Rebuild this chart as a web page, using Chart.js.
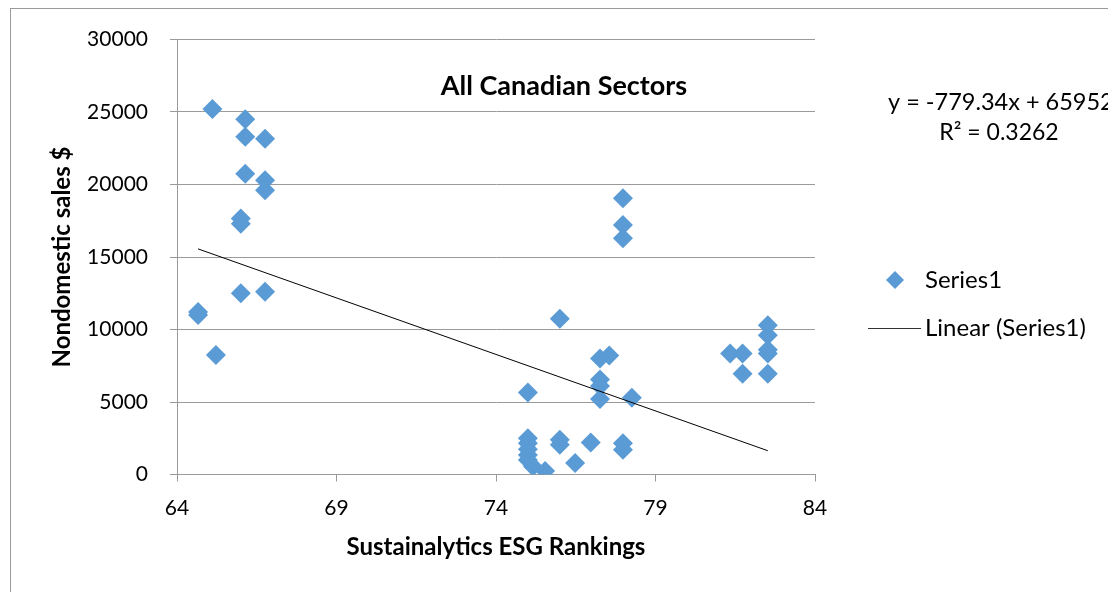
<!DOCTYPE html>
<html>
<head>
<meta charset="utf-8">
<title>All Canadian Sectors</title>
<script src="https://cdn.jsdelivr.net/npm/chart.js@4.4.1/dist/chart.umd.min.js"></script>
<style>
    html, body { margin: 0; padding: 0; background: #ffffff; }
    #wrap { position: relative; width: 1108px; height: 592px; }
</style>
</head>
<body>
<div id="wrap">
    <canvas id="esgChart" width="1108" height="592"></canvas>
</div>
<script>
// Sustainalytics ESG ranking (x) and nondomestic sales (y)
const esgRank = [
    65.11, 66.14, 66.14, 66.76, 66.14, 66.76, 66.76, 66.0, 66.0,
    64.66, 64.66, 66.0, 66.76, 65.22,
    75.0, 76.0, 77.98, 77.98, 77.98, 77.26, 77.55, 77.26, 77.26, 77.26, 78.26,
    75.0, 75.0, 75.0, 75.0, 75.0, 75.16, 75.54, 76.0, 76.0, 76.48, 76.97, 77.98, 77.98,
    81.34, 81.73, 81.73, 82.52, 82.52, 82.52, 82.52, 82.52
];
const nondomesticSales = [
    25200, 24500, 23300, 23150, 20750, 20300, 19600, 17650, 17300,
    11200, 11000, 12500, 12600, 8250,
    5650, 10750, 19050, 17200, 16300, 8000, 8200, 6550, 6100, 5200, 5300,
    2500, 2150, 1750, 1350, 1000, 550, 250, 2400, 2050, 800, 2200, 2150, 1700,
    8350, 8350, 6950, 10300, 9600, 8600, 8350, 6950
];

// tick labels
const xTicks = [64, 69, 74, 79, 84];
const yTicks = [0, 5000, 10000, 15000, 20000, 25000, 30000];

// excel linear trendline, as printed on the chart
const trendSlope = -779.34;
const trendIntercept = 65952;
const trendLabel = 'y = -779.34x + 65952';
const r2Label = 'R\u00B2 = 0.3262';

const seriesName = 'Series1';
const trendName = 'Linear (Series1)';
const chartTitle = 'All Canadian Sectors';

const FONT = 'Lato, "Open Sans", sans-serif';
const BLUE = '#5B9BD5';
const GRID = '#9a9a9a';

const points = esgRank.map((x, i) => ({ x: x, y: nondomesticSales[i] }));
const xMin = Math.min(...esgRank);
const xMax = Math.max(...esgRank);
const trendPoints = [xMin, xMax].map(x => ({ x: x, y: trendSlope * x + trendIntercept }));

// border, title, equation and legend drawn like the excel chart
const excelDecor = {
    id: 'excelDecor',
    beforeDraw(chart) {
        const ctx = chart.ctx;
        ctx.save();
        ctx.fillStyle = '#ffffff';
        ctx.fillRect(0, 0, chart.width, chart.height);
        ctx.strokeStyle = GRID;
        ctx.lineWidth = 1;
        ctx.strokeRect(10.5, 8.5, 1200, 700);
        ctx.restore();
    },
    afterDraw(chart) {
        const ctx = chart.ctx;
        ctx.save();
        ctx.fillStyle = '#000000';
        ctx.textBaseline = 'middle';

        ctx.font = 'bold 27px ' + FONT;
        ctx.textAlign = 'center';
        ctx.fillText(chartTitle, 564, 86);

        ctx.font = '23.5px ' + FONT;
        ctx.textAlign = 'left';
        ctx.fillText(trendLabel, 888, 102);
        ctx.textAlign = 'center';
        ctx.font = '23px ' + FONT;
        ctx.fillText(r2Label, 999, 133);

        // legend
        ctx.fillStyle = BLUE;
        ctx.beginPath();
        ctx.moveTo(895, 271);
        ctx.lineTo(904, 280);
        ctx.lineTo(895, 289);
        ctx.lineTo(886, 280);
        ctx.closePath();
        ctx.fill();

        ctx.strokeStyle = '#333333';
        ctx.lineWidth = 1;
        ctx.beginPath();
        ctx.moveTo(868, 328.5);
        ctx.lineTo(921, 328.5);
        ctx.stroke();

        ctx.fillStyle = '#000000';
        ctx.textAlign = 'left';
        ctx.font = '24px ' + FONT;
        ctx.fillText(seriesName, 925, 280);
        ctx.fillText(trendName, 925, 328);
        ctx.restore();
    }
};

const ctx = document.getElementById('esgChart');
new Chart(ctx, {
    type: 'scatter',
    data: {
        datasets: [
            {
                label: seriesName,
                data: points,
                pointStyle: 'rectRot',
                pointRadius: 10,
                pointHoverRadius: 10,
                backgroundColor: BLUE,
                borderWidth: 0,
                order: 2
            },
            {
                label: trendName,
                type: 'line',
                data: trendPoints,
                showLine: true,
                borderColor: '#000000',
                borderWidth: 1,
                pointRadius: 0,
                fill: false,
                order: 1
            }
        ]
    },
    options: {
        responsive: false,
        animation: false,
        devicePixelRatio: 1,
        layout: {
            padding: { top: 39.5, right: 293, bottom: 0, left: 0 }
        },
        plugins: {
            legend: { display: false },
            title: { display: false },
            tooltip: { enabled: false }
        },
        scales: {
            x: {
                type: 'linear',
                min: xTicks[0],
                max: xTicks[xTicks.length - 1],
                afterBuildTicks: (scale) => { scale.ticks = xTicks.map(v => ({ value: v })); },
                afterFit: (scale) => { scale.height = 117.5; },
                grid: {
                    drawOnChartArea: false,
                    drawTicks: true,
                    tickLength: 7,
                    color: GRID
                },
                border: { display: true, color: GRID, width: 1 },
                ticks: {
                    color: '#000000',
                    padding: 14,
                    font: { family: FONT, size: 21 },
                    callback: (v) => String(v)
                },
                title: {
                    display: true,
                    text: 'Sustainalytics ESG Rankings',
                    color: '#000000',
                    padding: { top: 0, bottom: 30 },
                    font: { family: FONT, size: 24, weight: 'bold' }
                }
            },
            y: {
                type: 'linear',
                min: yTicks[0],
                max: yTicks[yTicks.length - 1],
                afterBuildTicks: (scale) => { scale.ticks = yTicks.map(v => ({ value: v })); },
                afterFit: (scale) => { scale.width = 177; },
                grid: {
                    drawOnChartArea: true,
                    drawTicks: true,
                    tickLength: 7,
                    color: GRID
                },
                border: { display: true, color: GRID, width: 1 },
                ticks: {
                    color: '#000000',
                    padding: 22,
                    font: { family: FONT, size: 21 },
                    callback: (v) => String(v)
                },
                title: {
                    display: true,
                    text: 'Nondomestic sales $',
                    color: '#000000',
                    padding: { top: 48, bottom: 0 },
                    font: { family: FONT, size: 24, weight: 'bold' }
                }
            }
        }
    },
    plugins: [excelDecor]
});
</script>
</body>
</html>
